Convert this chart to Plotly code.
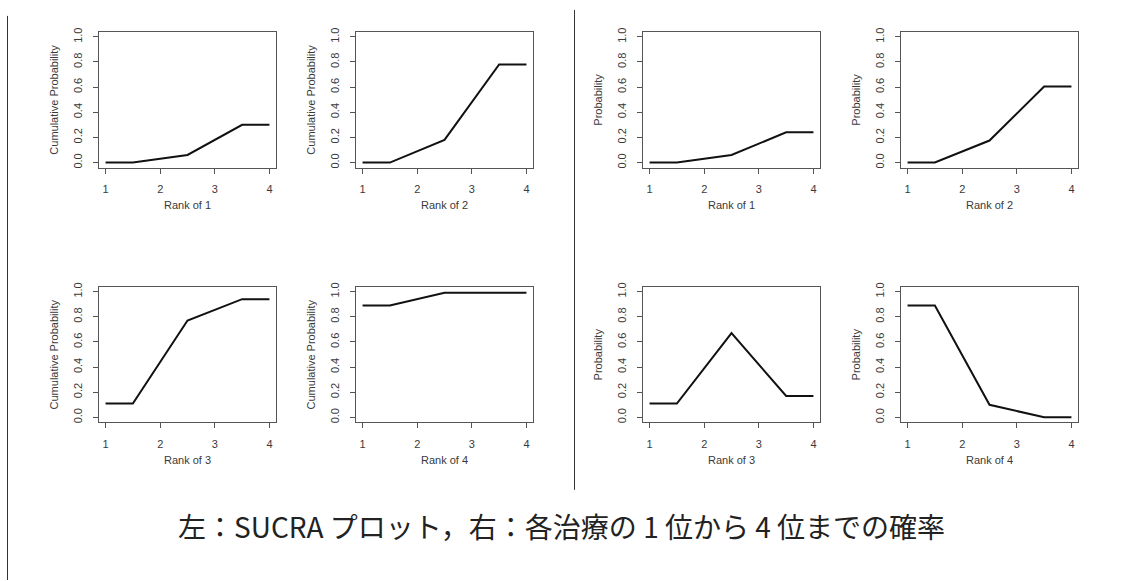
import plotly.graph_objects as go

W, H = 1132, 581

rank_x = [1, 1.5, 2.5, 3.5, 4]

# Left block: SUCRA (cumulative probability) curves
cum_rank1 = [0.0, 0.0, 0.06, 0.30, 0.30]
cum_rank2 = [0.0, 0.0, 0.18, 0.78, 0.78]
cum_rank3 = [0.11, 0.11, 0.77, 0.94, 0.94]
cum_rank4 = [0.89, 0.89, 0.99, 0.99, 0.99]

# Right block: probability of each rank
prob_rank1 = [0.0, 0.0, 0.06, 0.24, 0.24]
prob_rank2 = [0.0, 0.0, 0.175, 0.605, 0.605]
prob_rank3 = [0.11, 0.11, 0.67, 0.17, 0.17]
prob_rank4 = [0.89, 0.89, 0.10, 0.0, 0.0]

x_ticks = [1, 2, 3, 4]
y_ticks = [0.0, 0.2, 0.4, 0.6, 0.8, 1.0]

panels = [
    (cum_rank1, "Cumulative Probability", "Rank of 1", 0, 0),
    (cum_rank2, "Cumulative Probability", "Rank of 2", 1, 0),
    (cum_rank3, "Cumulative Probability", "Rank of 3", 0, 1),
    (cum_rank4, "Cumulative Probability", "Rank of 4", 1, 1),
    (prob_rank1, "Probability", "Rank of 1", 2, 0),
    (prob_rank2, "Probability", "Rank of 2", 3, 0),
    (prob_rank3, "Probability", "Rank of 3", 2, 1),
    (prob_rank4, "Probability", "Rank of 4", 3, 1),
]

caption = "左：SUCRA プロット，右：各治療の 1 位から 4 位までの確率"

col_left = [99, 356, 643, 901]
row_top = [28, 285]
pw, ph = 177, 137

fig = go.Figure()
annotations = []
axis_col = "#555555"
txt_col = "#3a3a3a"
font_fam = "Liberation Sans"

for i, (vals, ylab, xlab, c, r) in enumerate(panels):
    n = "" if i == 0 else str(i + 1)
    L = col_left[c]
    T = row_top[r]
    xd = [L / W, (L + pw) / W]
    yd = [1 - (T + ph) / H, 1 - T / H]
    fig.add_trace(go.Scatter(x=rank_x, y=vals, mode="lines",
                             line=dict(color="#111111", width=2),
                             xaxis="x" + n, yaxis="y" + n,
                             showlegend=False, hoverinfo="skip"))
    fig.layout["xaxis" + n] = dict(
        domain=xd, anchor="y" + n, range=[0.88, 4.12],
        tickvals=x_ticks, ticktext=[str(v) for v in x_ticks],
        showgrid=False, zeroline=False, showline=True, mirror=True,
        linecolor=axis_col, linewidth=1, ticks="outside", ticklen=5,
        tickcolor=axis_col, tickfont=dict(family=font_fam, size=11, color=txt_col),
        ticklabelstandoff=6, fixedrange=True)
    fig.layout["yaxis" + n] = dict(
        domain=yd, anchor="x" + n, range=[-0.04, 1.04],
        tickvals=y_ticks, ticktext=["%.1f" % v for v in y_ticks],
        tickangle=-90,
        showgrid=False, zeroline=False, showline=True, mirror=True,
        linecolor=axis_col, linewidth=1, ticks="outside", ticklen=5,
        tickcolor=axis_col, tickfont=dict(family=font_fam, size=11, color=txt_col),
        ticklabelstandoff=7, fixedrange=True)
    # axis titles
    annotations.append(dict(
        x=(L - 45) / W, y=1 - (T + ph / 2) / H, xref="paper", yref="paper",
        text=ylab, textangle=-90, showarrow=False,
        xanchor="center", yanchor="middle",
        font=dict(family=font_fam, size=11, color=txt_col)))
    annotations.append(dict(
        x=(L + pw / 2) / W, y=1 - (T + ph + 38) / H, xref="paper", yref="paper",
        text=xlab, showarrow=False, xanchor="center", yanchor="middle",
        font=dict(family=font_fam, size=11, color=txt_col)))

annotations.append(dict(
    x=561 / W, y=1 - 527 / H, xref="paper", yref="paper",
    text=caption, showarrow=False, xanchor="center", yanchor="middle",
    font=dict(family="Noto Sans CJK JP", size=28, color="#222222")))

shapes = [
    dict(type="line", xref="paper", yref="paper",
         x0=7.5 / W, x1=7.5 / W, y0=0, y1=1 - 12 / H,
         line=dict(color="#333333", width=1)),
    dict(type="line", xref="paper", yref="paper",
         x0=574.5 / W, x1=574.5 / W, y0=1 - 490 / H, y1=1 - 6 / H,
         line=dict(color="#333333", width=1)),
]

fig.update_layout(width=W, height=H, margin=dict(l=0, r=0, t=0, b=0),
                  paper_bgcolor="white", plot_bgcolor="white",
                  annotations=annotations, shapes=shapes, showlegend=False)

fig.write_html("out.html", config={"displayModeBar": False})
